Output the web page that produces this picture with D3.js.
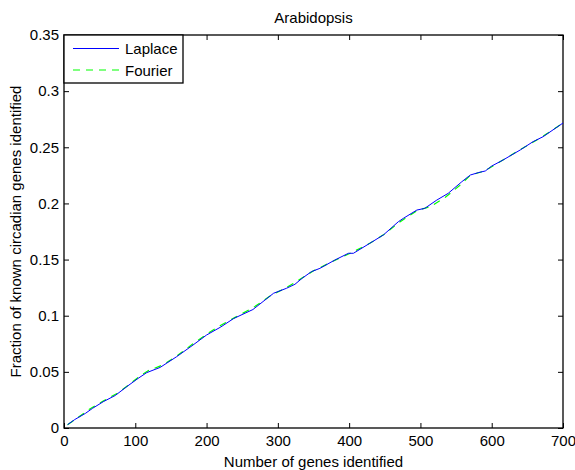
<!DOCTYPE html>
<html>
<head>
<meta charset="utf-8">
<script src="https://cdn.jsdelivr.net/npm/d3@7"></script>
<style>
  html, body { margin: 0; padding: 0; background: #fff; }
  svg { display: block; font-family: "Liberation Sans", Arial, Helvetica, sans-serif; }
</style>
</head>
<body>
<svg id="chart" width="575" height="470"></svg>
<script>
// Cumulative fraction of known circadian genes found, by number of genes ranked
const laplaceX = [5, 15, 30, 40, 55, 72, 88, 104, 116, 135, 158, 181, 200, 220, 238, 265, 294, 312, 324, 334, 347, 359, 380, 399, 406, 429, 448, 469, 476, 495, 506, 523, 539, 558, 570, 581, 591, 600, 616, 640, 658, 672, 700];
const laplaceY = [0.003, 0.0075, 0.013, 0.0175, 0.0234, 0.029, 0.0368, 0.0442, 0.0493, 0.054, 0.0635, 0.0739, 0.0828, 0.090, 0.0975, 0.1055, 0.120, 0.1244, 0.128, 0.1333, 0.1392, 0.1422, 0.1496, 0.1556, 0.1556, 0.1645, 0.1719, 0.1837, 0.1867, 0.1941, 0.1956, 0.203, 0.209, 0.2193, 0.2253, 0.2274, 0.2289, 0.2333, 0.2387, 0.2476, 0.255, 0.2594, 0.2716];

const fourierX = [5, 20, 35, 55, 75, 90, 105, 118, 140, 160, 180, 200, 220, 240, 265, 290, 312, 330, 350, 375, 400, 425, 448, 470, 495, 515, 535, 555, 570, 590, 610, 640, 670, 700];
const fourierY = [0.003, 0.0095, 0.0165, 0.024, 0.031, 0.038, 0.0455, 0.051, 0.0565, 0.065, 0.0745, 0.0835, 0.0915, 0.0985, 0.107, 0.118, 0.125, 0.132, 0.140, 0.1478, 0.1552, 0.1630, 0.1720, 0.1830, 0.1935, 0.1975, 0.2055, 0.2160, 0.2250, 0.2290, 0.2365, 0.2480, 0.2590, 0.2716];

const xTicks = [0, 100, 200, 300, 400, 500, 600, 700];
const yTicks = [0, 0.05, 0.1, 0.15, 0.2, 0.25, 0.3, 0.35];
const yTickLabels = ["0", "0.05", "0.1", "0.15", "0.2", "0.25", "0.3", "0.35"];

const seriesNames = ["Laplace", "Fourier"];
const seriesColors = ["#0000ff", "#00ff00"];

const svg = d3.select("#chart");
const margin = { left: 64, top: 35, right: 12, bottom: 42 };
const W = 575, H = 470;
const x0 = margin.left, x1 = W - margin.right;
const y0 = margin.top, y1 = H - margin.bottom;

const x = d3.scaleLinear().domain([0, 700]).range([x0, x1]);
const y = d3.scaleLinear().domain([0, 0.35]).range([y1, y0]);

// Axes: ticks pointing inward on all four sides, labels on bottom/left
const tickLen = 5;
const fontSize = 15;
const dash = "7,6";

const axisBottomG = svg.append("g").attr("transform", `translate(0,${y1})`)
  .call(d3.axisBottom(x).tickValues(xTicks).tickSize(-tickLen).tickPadding(7).tickFormat(d3.format("d")));
const axisLeftG = svg.append("g").attr("transform", `translate(${x0},0)`)
  .call(d3.axisLeft(y).tickValues(yTicks).tickSize(-tickLen).tickPadding(5).tickFormat((d, i) => yTickLabels[i]));
const axisTopG = svg.append("g").attr("transform", `translate(0,${y0})`)
  .call(d3.axisTop(x).tickValues(xTicks).tickSize(-tickLen).tickFormat(""));
const axisRightG = svg.append("g").attr("transform", `translate(${x1},0)`)
  .call(d3.axisRight(y).tickValues(yTicks).tickSize(-tickLen).tickFormat(""));

[axisBottomG, axisLeftG, axisTopG, axisRightG].forEach(g => {
  g.select(".domain").remove();
  g.selectAll(".tick line").attr("stroke", "#000").attr("stroke-width", 1);
  g.selectAll(".tick text").attr("fill", "#000").style("font-size", fontSize + "px")
    .style("font-family", '"Liberation Sans", Arial, sans-serif');
});

// Plot box
svg.append("rect")
  .attr("x", x0).attr("y", y0)
  .attr("width", x1 - x0).attr("height", y1 - y0)
  .attr("fill", "none").attr("stroke", "#000").attr("stroke-width", 1.3);

// Series lines
const line = d3.line().x(d => x(d[0])).y(d => y(d[1]));
const laplace = laplaceX.map((v, i) => [v, laplaceY[i]]);
const fourier = fourierX.map((v, i) => [v, fourierY[i]]);

svg.append("path").datum(fourier)
  .attr("d", line).attr("fill", "none")
  .attr("stroke", seriesColors[1]).attr("stroke-width", 1.2)
  .attr("stroke-dasharray", dash);
svg.append("path").datum(laplace)
  .attr("d", line).attr("fill", "none")
  .attr("stroke", seriesColors[0]).attr("stroke-width", 1);

// Title and axis labels
svg.append("text").attr("x", (x0 + x1) / 2).attr("y", 23)
  .attr("text-anchor", "middle").style("font-size", fontSize + "px").text("Arabidopsis");
svg.append("text").attr("x", (x0 + x1) / 2).attr("y", 467)
  .attr("text-anchor", "middle").style("font-size", fontSize + "px").text("Number of genes identified");
svg.append("text")
  .attr("transform", `translate(21,${(y0 + y1) / 2}) rotate(-90)`)
  .attr("text-anchor", "middle").style("font-size", fontSize + "px")
  .text("Fraction of known circadian genes identified");

// Legend
const lg = svg.append("g");
lg.append("rect").attr("x", x0).attr("y", y0).attr("width", 119).attr("height", 48)
  .attr("fill", "#fff").attr("stroke", "#000").attr("stroke-width", 1.3);
seriesNames.forEach((name, i) => {
  const cy = y0 + 13.5 + i * 21.5;
  lg.append("line").attr("x1", x0 + 9).attr("x2", x0 + 55).attr("y1", cy).attr("y2", cy)
    .attr("stroke", seriesColors[i]).attr("stroke-width", 1.2)
    .attr("stroke-dasharray", i === 1 ? dash : null);
  lg.append("text").attr("x", x0 + 61).attr("y", cy + 5.5)
    .style("font-size", fontSize + "px").text(name);
});
</script>
</body>
</html>
